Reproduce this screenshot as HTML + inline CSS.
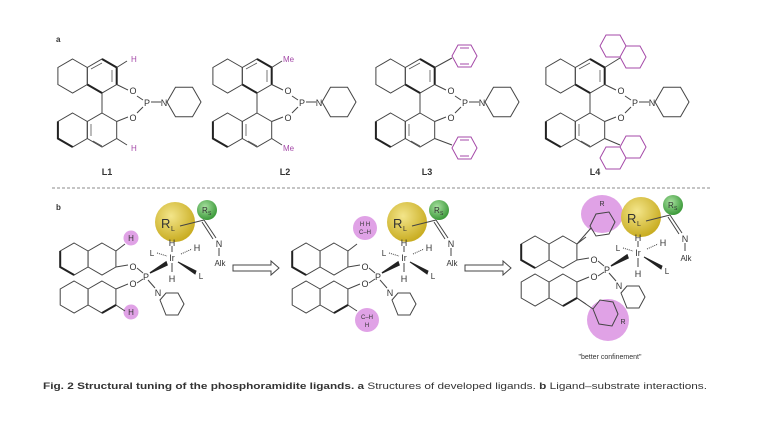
<!DOCTYPE html>
<html><head><meta charset="utf-8"><style>
html,body{margin:0;padding:0;background:#fff;width:763px;height:428px;overflow:hidden}
svg{display:block}
text{font-family:"Liberation Sans",sans-serif;fill:#333}
</style></head><body>
<svg width="763" height="428" viewBox="0 0 763 428" xmlns="http://www.w3.org/2000/svg">
<defs>
<path id="hx" d="M0,-17 L14.7,-8.5 L14.7,8.5 L0,17 L-14.7,8.5 L-14.7,-8.5Z" fill="none" stroke="#444" stroke-width="1"/>
<path id="hs" d="M0,-16 L13.9,-8 L13.9,8 L0,16 L-13.9,8 L-13.9,-8Z" fill="none" stroke="#444" stroke-width="1"/>
<g id="skA">
 <use href="#hx" x="102" y="76"/><use href="#hx" x="72.6" y="76"/>
 <use href="#hx" x="102" y="130"/><use href="#hx" x="72.6" y="130"/>
 <g stroke="#222" stroke-width="2" fill="none">
  <path d="M102,59 L116.7,67.5 L116.7,84.5"/><path d="M87.3,84.5 L102,93"/>
  <path d="M57.9,121.5 L57.9,138.5 L72.6,147"/>
 </g>
 <g stroke="#555" stroke-width="0.8" fill="none">
  <path d="M91,69 L102,63 M112,70 L112,82 M91,124 L91,136 M93,141 L102,146"/>
 </g>
 <g stroke="#444" stroke-width="1" fill="none">
  <path d="M102,93 L102,113"/>
  <path d="M116.7,84.5 L128,90 M137,96 L143,100 M143,107 L137,113 M116.7,121.5 L128,117 M151,102 L161,102"/>
  <path d="M167,102 L175.5,87.3 L192.5,87.3 L201,102 L192.5,116.7 L175.5,116.7Z"/>
 </g>
 <text x="133" y="94" font-size="9" text-anchor="middle">O</text>
 <text x="133" y="121" font-size="9" text-anchor="middle">O</text>
 <text x="147" y="106" font-size="9" text-anchor="middle">P</text>
 <text x="164" y="106" font-size="9" text-anchor="middle">N</text>
</g>
<g id="skB">
 <use href="#hs" x="102" y="259"/><use href="#hs" x="74.1" y="259"/>
 <use href="#hs" x="102" y="297"/><use href="#hs" x="74.1" y="297"/>
 <g stroke="#222" stroke-width="2" fill="none">
  <path d="M60.2,251 L60.2,267 L74.1,275"/><path d="M102,313 L115.9,305"/>
 </g>
 <g stroke="#444" stroke-width="1" fill="none">
  <path d="M115.9,267 L128,265 M115.9,289 L128,284 M137,268 L143,273 M137,283 L143,279"/>
  <path d="M115.9,251 L125,244 M115.9,305 L125,311"/>
  <path d="M148,280 L155,288"/>
  <path d="M160,297 L166,290 L178,290 L184,301 L178,312 L166,312Z" transform="translate(0,3)"/>
 </g>
 <path d="M150,273 L166,262 L167,265Z" fill="#222" stroke="#222" stroke-width="1.5"/>
 <text x="133" y="270" font-size="9" text-anchor="middle">O</text>
 <text x="133" y="287" font-size="9" text-anchor="middle">O</text>
 <text x="146" y="280" font-size="9" text-anchor="middle">P</text>
 <text x="158" y="296" font-size="9" text-anchor="middle">N</text>
</g>
<radialGradient id="yg" cx="40%" cy="35%" r="65%"><stop offset="0" stop-color="#f3e58a"/><stop offset="1" stop-color="#c9ad22"/></radialGradient>
<radialGradient id="gg" cx="40%" cy="35%" r="65%"><stop offset="0" stop-color="#a8e0a0"/><stop offset="1" stop-color="#3c9a3a"/></radialGradient>
<g id="irc">
 <circle cx="175" cy="222" r="20" fill="url(#yg)"/>
 <circle cx="207" cy="210" r="10" fill="url(#gg)"/>
 <text x="202" y="213" font-size="8">R</text><text x="208" y="215" font-size="5">S</text>
 <text x="161" y="228" font-size="13">R</text><text x="171" y="231" font-size="7">L</text>
 <g stroke="#444" stroke-width="1" fill="none">
  <path d="M180,226 L204,220 M204,220 L216,238 M202,222 L213,239 M219,248 L219,256"/>
  <path d="M172,246 L172,252 M172,263 L172,272"/>
 </g>
 <path d="M157,253 L167,256 M181,254 L192,249" stroke="#444" stroke-width="1" stroke-dasharray="1,1"/>
 <path d="M178,262 L196,271 L195,274Z" fill="#222" stroke="#222"/>
 <text x="172" y="246" font-size="9" text-anchor="middle">H</text>
 <text x="172" y="261" font-size="9" text-anchor="middle">Ir</text>
 <text x="172" y="282" font-size="9" text-anchor="middle">H</text>
 <text x="152" y="256" font-size="8" text-anchor="middle">L</text>
 <text x="197" y="251" font-size="9" text-anchor="middle">H</text>
 <text x="201" y="279" font-size="8" text-anchor="middle">L</text>
 <text x="219" y="247" font-size="9" text-anchor="middle">N</text>
 <text x="220" y="266" font-size="8" text-anchor="middle">Alk</text>
</g>
<path id="arr" d="M0,-3 L38,-3 L38,-7 L46,0 L38,7 L38,3 L0,3Z" fill="#fff" stroke="#444" stroke-width="1"/>
</defs>

<text x="56" y="42" font-size="8" font-weight="bold">a</text>
<text x="56" y="210" font-size="8" font-weight="bold">b</text>

<use href="#skA"/>
<g stroke="#444" fill="none"><path d="M116.7,67.5 L127,61 M116.7,138.5 L127,145"/></g>
<text x="131" y="62" font-size="8" style="fill:#a54aa8">H</text>
<text x="131" y="151" font-size="8" style="fill:#a54aa8">H</text>
<text x="107" y="175" font-size="9" font-weight="bold" text-anchor="middle">L1</text>
<use href="#skA" x="155"/>
<g stroke="#444" fill="none"><path d="M271.7,67.5 L282,61 M271.7,138.5 L282,145"/></g>
<text x="283" y="62" font-size="8" style="fill:#a54aa8">Me</text>
<text x="283" y="151" font-size="8" style="fill:#a54aa8">Me</text>
<text x="285" y="175" font-size="9" font-weight="bold" text-anchor="middle">L2</text>
<use href="#skA" x="318"/>
<g stroke="#444" fill="none"><path d="M434.7,67.5 L452,58 M434.7,138.5 L452,145"/></g>
<g stroke="#a54aa8" fill="none">
 <path d="M452,56 L458,45 L471,45 L477,56 L471,67 L458,67Z M460,48 L469,48 M460,64 L469,64"/>
 <path d="M452,148 L458,137 L471,137 L477,148 L471,159 L458,159Z M460,140 L469,140 M460,156 L469,156"/>
</g>
<text x="427" y="175" font-size="9" font-weight="bold" text-anchor="middle">L3</text>
<use href="#skA" x="488"/>
<g stroke="#444" fill="none"><path d="M604.7,67.5 L620,58 M604.7,138.5 L620,145"/></g>
<g stroke="#a54aa8" fill="none">
 <path d="M620,57 L626,46 L640,46 L646,57 L640,68 L626,68Z"/>
 <path d="M626,46 L620,35 L606,35 L600,46 L606,57 L620,57"/>
 <path d="M620,147 L626,136 L640,136 L646,147 L640,158 L626,158Z"/>
 <path d="M626,158 L620,169 L606,169 L600,158 L606,147 L620,147"/>
</g>
<text x="595" y="175" font-size="9" font-weight="bold" text-anchor="middle">L4</text>

<line x1="52" y1="188" x2="712" y2="188" stroke="#666" stroke-width="0.8" stroke-dasharray="3,2"/>

<circle cx="131" cy="238" r="7.5" fill="#e0a2e6"/>
<circle cx="131" cy="312" r="7.5" fill="#e0a2e6"/>
<text x="131" y="241" font-size="8" text-anchor="middle">H</text>
<text x="131" y="315" font-size="8" text-anchor="middle">H</text>
<use href="#skB"/>
<use href="#irc"/>
<use href="#arr" x="233" y="268"/>

<circle cx="365" cy="228" r="12" fill="#e0a2e6"/>
<circle cx="367" cy="320" r="12" fill="#e0a2e6"/>
<text x="365" y="226" font-size="6" text-anchor="middle">H H</text>
<text x="365" y="234" font-size="6" text-anchor="middle">C–H</text>
<text x="367" y="319" font-size="6" text-anchor="middle">C–H</text>
<text x="367" y="327" font-size="6" text-anchor="middle">H</text>
<use href="#skB" x="232"/>
<use href="#irc" x="232"/>
<use href="#arr" x="465" y="268"/>

<ellipse cx="602" cy="214" rx="21" ry="19" fill="#e0a2e6"/>
<circle cx="608" cy="320" r="21" fill="#e0a2e6"/>
<use href="#skB" x="461" y="-7"/>
<g stroke="#444" fill="none">
 <path d="M577,244 L591,228 M577,298 L593,309"/>
 <path d="M590,226 L596,214 L609,212 L615,222 L609,234 L596,236Z"/>
 <path d="M593,309 L600,300 L613,302 L618,314 L612,326 L599,324Z"/>
</g>
<text x="602" y="206" font-size="7" text-anchor="middle">R</text>
<text x="623" y="324" font-size="7" text-anchor="middle">R</text>
<use href="#irc" x="466" y="-5"/>
<text x="610" y="359" font-size="7" text-anchor="middle">"better confinement"</text>

<text x="43" y="389" font-size="9.5" textLength="664" lengthAdjust="spacingAndGlyphs"><tspan font-weight="bold">Fig. 2 Structural tuning of the phosphoramidite ligands.</tspan> <tspan font-weight="bold">a</tspan> Structures of developed ligands. <tspan font-weight="bold">b</tspan> Ligand–substrate interactions.</text>
</svg>
</body></html>
